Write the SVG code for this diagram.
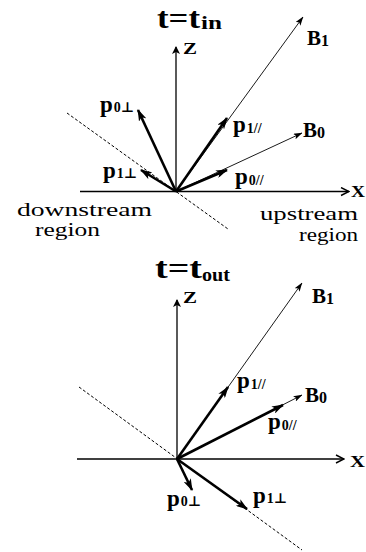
<svg xmlns="http://www.w3.org/2000/svg" width="366" height="552" viewBox="0 0 366 552">
<style>
text{font-family:"Liberation Serif","Times New Roman",Times,"DejaVu Serif",serif;fill:#000}
.ttl{font-size:29px;font-weight:bold}
.tsub{font-size:18px;font-weight:bold}
.ax{font-size:16px;font-weight:bold}
.bl{font-size:21px;font-weight:bold}
.bs{font-size:16px;font-weight:bold}
.p{font-size:23px;font-weight:bold}
.ps{font-size:14px}
.rg{font-size:18px}
.axis{stroke:#000;stroke-width:1.3;fill:none}
.thin{stroke:#000;stroke-width:0.9;fill:none}
.vec{stroke:#000;stroke-width:2.6;fill:none}
.dash{stroke:#000;stroke-width:1;stroke-dasharray:3 2;fill:none}
</style>
<defs>
<marker id="hv" viewBox="0 0 12 8" refX="11" refY="4" markerWidth="12" markerHeight="8" markerUnits="userSpaceOnUse" orient="auto">
<path d="M0,0 L12,4 L0,8 L3,4 z" fill="#000"/>
</marker>
<marker id="hb" viewBox="0 0 9 6" refX="8.5" refY="3" markerWidth="9" markerHeight="6" markerUnits="userSpaceOnUse" orient="auto">
<path d="M0,0 L9,3 L0,6 L2,3 z" fill="#000"/>
</marker>
<marker id="ha" viewBox="0 0 10 10" refX="9" refY="5" markerWidth="10" markerHeight="10" markerUnits="userSpaceOnUse" orient="auto">
<path d="M1,1 L9,5 L1,9" fill="none" stroke="#000" stroke-width="1.4"/>
</marker>
<marker id="hz" viewBox="0 0 8 8" refX="7" refY="4" markerWidth="8" markerHeight="8" markerUnits="userSpaceOnUse" orient="auto">
<path d="M0,0 L8,4 L0,8 L2,4 z" fill="#000"/>
</marker>
</defs>

<g id="connectors">
<path class="dash" d="M67,113 L228,229"/>
<path class="axis" d="M80,191.5 H349" marker-end="url(#ha)"/>
<path class="axis" d="M176,191.5 V47" marker-end="url(#hz)"/>
<path class="thin" d="M176,191.5 L303,17" marker-end="url(#hb)"/>
<path class="thin" d="M176,191.5 L302,133" marker-end="url(#hb)"/>
<path class="vec" d="M176,191.5 L227,118" marker-end="url(#hv)"/>
<path class="vec" d="M176,191.5 L227,170" marker-end="url(#hv)"/>
<path class="vec" d="M176,191.5 L138,110" marker-end="url(#hv)"/>
<path class="vec" d="M176,191.5 L141,170" marker-end="url(#hv)"/>
<path class="dash" d="M79,387 L302,550"/>
<path class="axis" d="M77,459 H344" marker-end="url(#ha)"/>
<path class="axis" d="M177,459 V300" marker-end="url(#hz)"/>
<path class="thin" d="M177,459 L302,283" marker-end="url(#hb)"/>
<path class="thin" d="M177,459 L302,395" marker-end="url(#hb)"/>
<path class="vec" d="M177,459 L228,387" marker-end="url(#hv)"/>
<path class="vec" d="M177,459 L283,405" marker-end="url(#hv)"/>
<path class="vec" d="M177,459 L247,509" marker-end="url(#hv)"/>
<path class="vec" d="M177,459 L192,490" marker-end="url(#hv)"/>
</g>

<g id="top-title">
<text class="ttl" x="157" y="28" textLength="43" lengthAdjust="spacingAndGlyphs">t=t</text>
<text class="tsub" x="201" y="29" textLength="21" lengthAdjust="spacingAndGlyphs">in</text>
</g>
<g id="top-Z"><text class="ax" x="183" y="54" textLength="14" lengthAdjust="spacingAndGlyphs">Z</text></g>
<g id="top-X"><text class="ax" x="351" y="197" textLength="14" lengthAdjust="spacingAndGlyphs">X</text></g>
<g id="top-B1"><text class="bl" x="307" y="45">B<tspan class="bs" dy="1">1</tspan></text></g>
<g id="top-B0"><text class="bl" x="303" y="137">B<tspan class="bs" dy="1">0</tspan></text></g>
<g id="top-p1par"><text class="p" x="233" y="132">p<tspan class="ps" dy="1" dx="1">1//</tspan></text></g>
<g id="top-p0par"><text class="p" x="235" y="184">p<tspan class="ps" dy="1" dx="1">0//</tspan></text></g>
<g id="top-p0perp"><text class="p" x="100" y="112">p<tspan class="ps" dx="1">0⊥</tspan></text></g>
<g id="top-p1perp"><text class="p" x="103" y="178">p<tspan class="ps" dx="1">1⊥</tspan></text></g>
<g id="downstream">
<text class="rg" x="17" y="216" textLength="135" lengthAdjust="spacingAndGlyphs">downstream</text>
<text class="rg" x="35" y="236" textLength="65" lengthAdjust="spacingAndGlyphs">region</text>
</g>
<g id="upstream">
<text class="rg" x="260" y="220" textLength="98" lengthAdjust="spacingAndGlyphs">upstream</text>
<text class="rg" x="299" y="241" textLength="59" lengthAdjust="spacingAndGlyphs">region</text>
</g>

<g id="bottom-title">
<text class="ttl" x="155" y="278" textLength="47" lengthAdjust="spacingAndGlyphs">t=t</text>
<text class="tsub" x="202" y="281" textLength="28" lengthAdjust="spacingAndGlyphs">out</text>
</g>
<g id="bottom-Z"><text class="ax" x="183" y="303" textLength="14" lengthAdjust="spacingAndGlyphs">Z</text></g>
<g id="bottom-X"><text class="ax" x="350" y="467" textLength="15" lengthAdjust="spacingAndGlyphs">X</text></g>
<g id="bottom-B1"><text class="bl" x="312" y="303">B<tspan class="bs" dy="1">1</tspan></text></g>
<g id="bottom-B0"><text class="bl" x="305" y="402">B<tspan class="bs" dy="1">0</tspan></text></g>
<g id="bottom-p1par"><text class="p" x="237" y="388">p<tspan class="ps" dy="1" dx="1">1//</tspan></text></g>
<g id="bottom-p0par"><text class="p" x="268" y="429">p<tspan class="ps" dy="1" dx="1">0//</tspan></text></g>
<g id="bottom-p0perp"><text class="p" x="167" y="506">p<tspan class="ps" dx="1">0⊥</tspan></text></g>
<g id="bottom-p1perp"><text class="p" x="253" y="503">p<tspan class="ps" dx="1">1⊥</tspan></text></g>
</svg>
